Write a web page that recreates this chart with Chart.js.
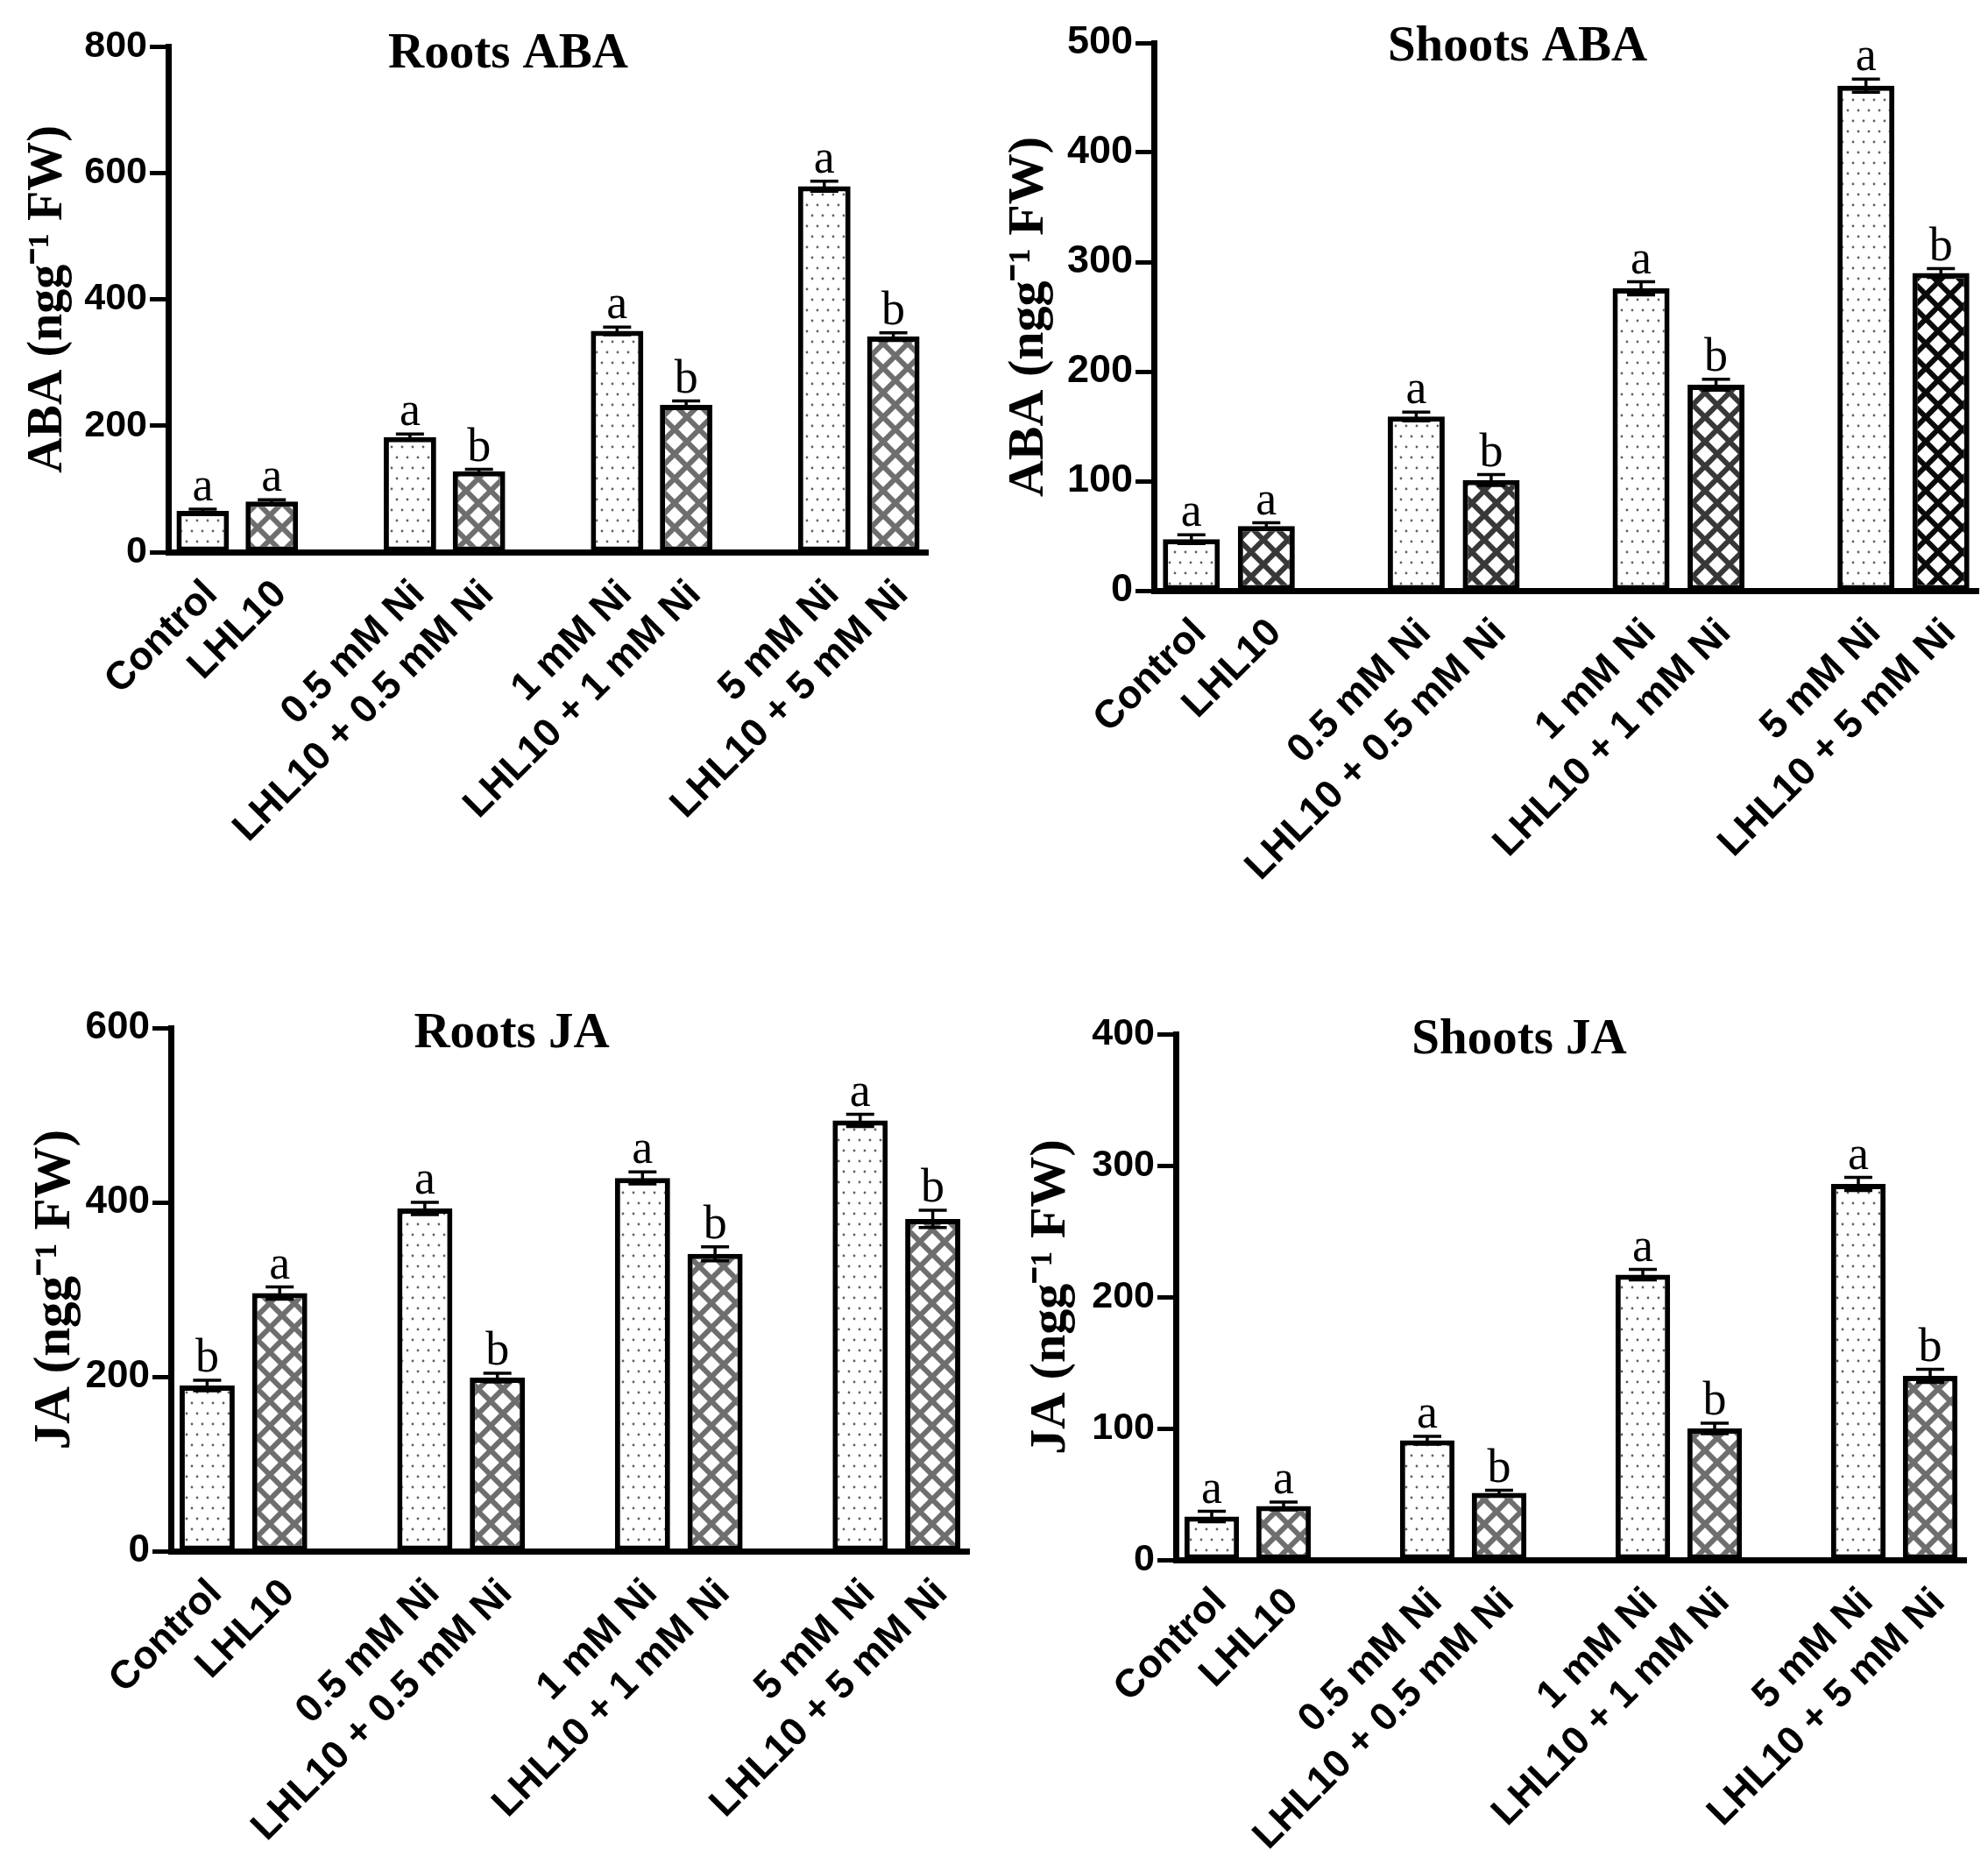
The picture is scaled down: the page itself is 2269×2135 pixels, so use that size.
<!DOCTYPE html>
<html>
<head>
<meta charset="utf-8">
<script src="https://cdn.jsdelivr.net/npm/chart.js@4.4.1/dist/chart.umd.min.js"></script>
<style>
  html, body { margin: 0; padding: 0; background: #ffffff; }
  body { width: 2269px; height: 2135px; position: relative; overflow: hidden; }
  .panel { position: absolute; }
</style>
</head>
<body>
<div class="panel" style="left:0px;top:0px;"><canvas id="rootsABA" width="1134" height="1067"></canvas></div>
<div class="panel" style="left:1134px;top:0px;"><canvas id="shootsABA" width="1135" height="1067"></canvas></div>
<div class="panel" style="left:0px;top:1067px;"><canvas id="rootsJA" width="1134" height="1068"></canvas></div>
<div class="panel" style="left:1134px;top:1067px;"><canvas id="shootsJA" width="1135" height="1068"></canvas></div>
<script>
// ---------------- DATA ----------------
const treatments = ['Control', 'LHL10', '0.5 mM Ni', 'LHL10 + 0.5 mM Ni', '1 mM Ni', 'LHL10 + 1 mM Ni', '5 mM Ni', 'LHL10 + 5 mM Ni'];

const rootsABAValues = [65, 80, 182, 128, 350, 233, 579, 341];
const rootsABAErrors = [3, 3, 5, 3, 6, 6, 8, 6];
const rootsABALetters = ['a', 'a', 'a', 'b', 'a', 'b', 'a', 'b'];

const shootsABAValues = [47, 59, 159, 101, 276, 188, 461, 290];
const shootsABAErrors = [4, 3, 4, 5, 6, 5, 6, 4];
const shootsABALetters = ['a', 'a', 'a', 'b', 'a', 'b', 'a', 'b'];

const rootsJAValues = [190, 296, 393, 199, 428, 341, 494, 381];
const rootsJAErrors = [6, 7, 7, 5, 7, 8, 7, 10];
const rootsJALetters = ['b', 'a', 'a', 'b', 'a', 'b', 'a', 'b'];

const shootsJAValues = [33, 41, 91, 51, 217, 100, 286, 140];
const shootsJAErrors = [4, 3, 3, 2, 4, 4, 5, 5];
const shootsJALetters = ['a', 'a', 'a', 'b', 'a', 'b', 'a', 'b'];

const rootsABATicks = [0, 200, 400, 600, 800];
const shootsABATicks = [0, 100, 200, 300, 400, 500];
const rootsJATicks = [0, 200, 400, 600];
const shootsJATicks = [0, 100, 200, 300, 400];

// insert an empty slot between treatment pairs
function withGaps(arr, filler) {
  const out = [];
  arr.forEach((v, i) => {
    out.push(v);
    if (i % 2 === 1 && i < arr.length - 1) out.push(filler);
  });
  return out;
}

// ---------------- PATTERNS ----------------
function dotPattern() {
  const c = document.createElement('canvas');
  c.width = 12; c.height = 24;
  const g = c.getContext('2d');
  g.fillStyle = '#ffffff'; g.fillRect(0, 0, 12, 24);
  g.fillStyle = '#606060';
  [[3, 6], [9, 18]].forEach(([x, y]) => { g.beginPath(); g.arc(x, y, 1.4, 0, Math.PI * 2); g.fill(); });
  return g.createPattern(c, 'repeat');
}
function hatchPattern(color) {
  const s = 28;
  const c = document.createElement('canvas');
  c.width = s; c.height = s;
  const g = c.getContext('2d');
  g.fillStyle = '#ffffff'; g.fillRect(0, 0, s, s);
  g.strokeStyle = color; g.lineWidth = 6; g.lineCap = 'square';
  g.beginPath();
  for (let k = -1; k <= 1; k++) {
    g.moveTo(k * s, 0); g.lineTo(k * s + s, s);
    g.moveTo(k * s + s, 0); g.lineTo(k * s, s);
  }
  g.stroke();
  return g.createPattern(c, 'repeat');
}

// ---------------- PLUGINS ----------------
const errorLetterPlugin = {
  id: 'errorLetters',
  afterDatasetsDraw(chart, args, opts) {
    const ctx = chart.ctx;
    const ds = chart.data.datasets[0];
    const meta = chart.getDatasetMeta(0);
    const ys = chart.scales.y;
    ctx.save();
    meta.data.forEach((bar, i) => {
      const v = ds.data[i];
      if (v === null || v === undefined) return;
      const e = ds.errors[i];
      const x = bar.x;
      const yt = ys.getPixelForValue(v + e);
      const yb = ys.getPixelForValue(v - e);
      ctx.strokeStyle = '#000000';
      ctx.lineWidth = opts.lineWidth;
      ctx.beginPath();
      ctx.moveTo(x, yt); ctx.lineTo(x, yb);
      ctx.moveTo(x - opts.cap, yt); ctx.lineTo(x + opts.cap, yt);
      ctx.moveTo(x - opts.cap, yb); ctx.lineTo(x + opts.cap, yb);
      ctx.stroke();
      ctx.fillStyle = '#000000';
      ctx.font = opts.font;
      ctx.textAlign = 'center';
      ctx.textBaseline = 'alphabetic';
      ctx.fillText(ds.letters[i], x, yt - opts.gap);
    });
    ctx.restore();
  }
};

const panelTitlePlugin = {
  id: 'panelTitle',
  afterDraw(chart, args, opts) {
    const ctx = chart.ctx;
    ctx.save();
    ctx.fillStyle = '#000000';
    ctx.font = opts.font;
    ctx.textAlign = 'center';
    ctx.textBaseline = 'middle';
    ctx.fillText(opts.text, opts.x, opts.y);
    ctx.restore();
  }
};

// ---------------- CHART BUILDER ----------------
function makeChart(cfg) {
  const labels = withGaps(treatments, '');
  const data = withGaps(cfg.values, null);
  const errors = withGaps(cfg.errors, null);
  const letters = withGaps(cfg.letters, '');
  const dots = dotPattern();
  const hatchColors = cfg.hatchColors;
  const fills = withGaps(treatments.map((t, i) => i % 2 === 0 ? dots : hatchPattern(hatchColors[(i - 1) / 2])), 'rgba(0,0,0,0)');

  return new Chart(document.getElementById(cfg.id), {
    type: 'bar',
    data: {
      labels: labels,
      datasets: [{
        data: data,
        errors: errors,
        letters: letters,
        backgroundColor: fills,
        borderColor: '#000000',
        borderWidth: 6,
        borderSkipped: false,
        barPercentage: 0.76,
        categoryPercentage: 1.0
      }]
    },
    options: {
      responsive: false,
      animation: false,
      devicePixelRatio: 1,
      layout: { padding: { left: 0, top: cfg.padTop, right: cfg.padRight, bottom: 0 } },
      plugins: {
        legend: { display: false },
        tooltip: { enabled: false },
        panelTitle: { text: cfg.title, x: cfg.titleX, y: cfg.titleY, font: 'bold 57px "Liberation Serif", "Times New Roman", serif' },
        errorLetters: { lineWidth: 3.5, cap: 16, gap: 10, font: '54px "Liberation Serif", "Times New Roman", serif' }
      },
      scales: {
        x: {
          type: 'category',
          offset: true,
          grid: { display: false },
          border: { display: true, color: '#000000', width: 7 },
          ticks: {
            autoSkip: false,
            maxRotation: 45,
            minRotation: 45,
            padding: 14,
            labelOffset: 10,
            color: '#000000',
            font: { family: '"Liberation Sans", Arial, sans-serif', weight: 'bold', size: 45 }
          },
          afterFit: (scale) => { scale.height = cfg.xHeight; }
        },
        y: {
          min: 0,
          max: cfg.ticks[cfg.ticks.length - 1],
          afterBuildTicks: (scale) => { scale.ticks = cfg.ticks.map(v => ({ value: v })); },
          grid: { display: true, drawOnChartArea: false, drawTicks: true, tickLength: 21, tickWidth: 5, tickColor: '#000000' },
          border: { display: true, color: '#000000', width: 7 },
          ticks: {
            padding: 3,
            color: '#000000',
            font: { family: '"Liberation Sans", Arial, sans-serif', weight: 'bold', size: cfg.tickSize }
          },
          title: {
            display: true,
            text: cfg.yTitle,
            color: '#000000',
            padding: { top: cfg.yTitlePad, bottom: 0 },
            font: { family: '"Liberation Serif", "Times New Roman", serif', weight: 'bold', size: cfg.yTitleSize }
          },
          afterFit: (scale) => { scale.width = cfg.yWidth; }
        }
      }
    },
    plugins: [errorLetterPlugin, panelTitlePlugin]
  });
}

makeChart({
  id: 'rootsABA', title: 'Roots ABA', titleX: 580, titleY: 62,
  values: rootsABAValues, errors: rootsABAErrors, letters: rootsABALetters, ticks: rootsABATicks,
  hatchColors: ['#6e6e6e', '#6e6e6e', '#6e6e6e', '#6e6e6e'],
  yTitle: 'ABA (ngg\u207B\u00B9 FW)', yTitleSize: 56, yTitlePad: 22, tickSize: 43,
  yWidth: 192, xHeight: 437, padTop: 53, padRight: 75
});
makeChart({
  id: 'shootsABA', title: 'Shoots ABA', titleX: 598, titleY: 54,
  values: shootsABAValues, errors: shootsABAErrors, letters: shootsABALetters, ticks: shootsABATicks,
  hatchColors: ['#383838', '#383838', '#383838', '#0a0a0a'],
  yTitle: 'ABA (ngg\u207B\u00B9 FW)', yTitleSize: 58, yTitlePad: 6, tickSize: 45,
  yWidth: 183, xHeight: 393, padTop: 49, padRight: 11
});
makeChart({
  id: 'rootsJA', title: 'Roots JA', titleX: 584, titleY: 113,
  values: rootsJAValues, errors: rootsJAErrors, letters: rootsJALetters, ticks: rootsJATicks,
  hatchColors: ['#6e6e6e', '#6e6e6e', '#6e6e6e', '#6e6e6e'],
  yTitle: 'JA (ngg\u207B\u00B9 FW)', yTitleSize: 59, yTitlePad: 28, tickSize: 44,
  yWidth: 195, xHeight: 365, padTop: 106, padRight: 28
});
makeChart({
  id: 'shootsJA', title: 'Shoots JA', titleX: 600, titleY: 120,
  values: shootsJAValues, errors: shootsJAErrors, letters: shootsJALetters, ticks: shootsJATicks,
  hatchColors: ['#6e6e6e', '#6e6e6e', '#6e6e6e', '#6e6e6e'],
  yTitle: 'JA (ngg\u207B\u00B9 FW)', yTitleSize: 58, yTitlePad: 31, tickSize: 43,
  yWidth: 208, xHeight: 355, padTop: 113, padRight: 25
});
</script>
</body>
</html>
